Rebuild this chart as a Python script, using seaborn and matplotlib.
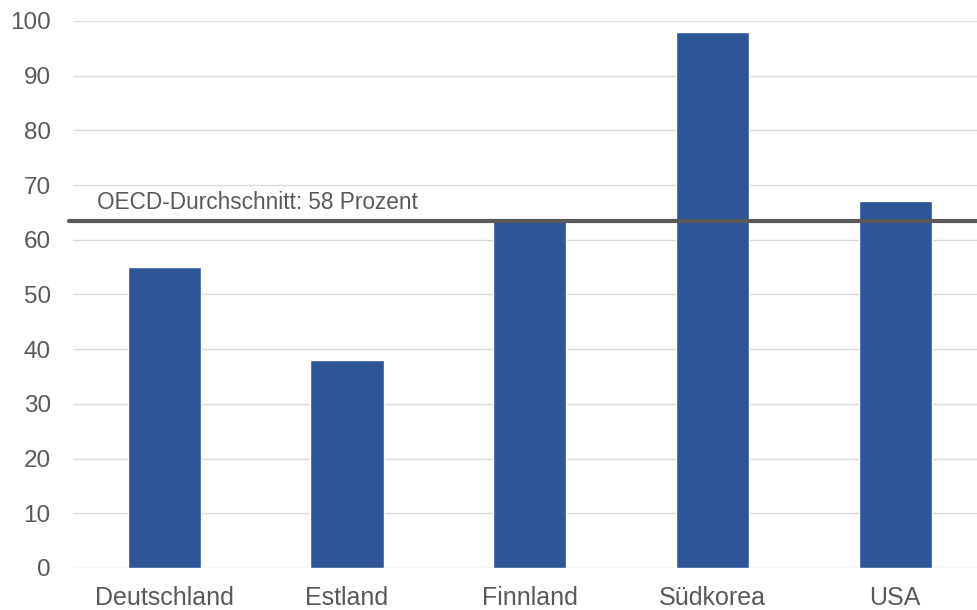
import numpy as np
import pandas as pd
import matplotlib
matplotlib.use('Agg')
import matplotlib.pyplot as plt
import seaborn as sns


COUNTRIES = ['Deutschland', 'Estland', 'Finnland', 'Südkorea', 'USA']
VALUES = [55, 38, 64, 98, 67]
OECD_LEVEL = 63.5
OECD_LABEL = 'OECD-Durchschnitt: 58 Prozent'
Y_TICKS = [0, 10, 20, 30, 40, 50, 60, 70, 80, 90, 100]

BAR_COLOR = '#2E5597'
TEXT_COLOR = '#595959'
GRID_COLOR = '#D9D9D9'

sns.set_theme(style='white')
plt.rcParams['font.family'] = ['Liberation Sans', 'DejaVu Sans']

df = pd.DataFrame({'Land': COUNTRIES, 'Wert': VALUES})

fig = plt.figure(figsize=(9.78, 6.10), dpi=100)
ax = fig.add_axes([0.0746, 0.0689, 1.0086 - 0.0746, 0.9656 - 0.0689])

sns.barplot(data=df, x='Land', y='Wert', color=BAR_COLOR, width=0.4,
            saturation=1, ax=ax, zorder=2)

# grid + axis cosmetics
ax.set_ylim(0, 100)
ax.set_xlim(-0.5, len(COUNTRIES) - 0.5)
ax.set_yticks(Y_TICKS)
ax.yaxis.grid(True, color=GRID_COLOR, linewidth=1)
ax.set_axisbelow(True)
for s in ax.spines.values():
    s.set_visible(False)
ax.set_xlabel('')
ax.set_ylabel('')
ax.tick_params(axis='y', length=0, pad=16, labelsize=17.5, labelcolor=TEXT_COLOR)
ax.tick_params(axis='x', length=0, pad=13, labelsize=18, labelcolor=TEXT_COLOR)

# OECD average line with label
ax.plot([-0.52, len(COUNTRIES) - 0.5], [OECD_LEVEL, OECD_LEVEL],
        color=TEXT_COLOR, linewidth=3, zorder=3, clip_on=False)
ax.text(-0.37, OECD_LEVEL + 1.3, OECD_LABEL, fontsize=16.3,
        color=TEXT_COLOR, ha='left', va='bottom')

plt.savefig('out.png', dpi=100)
plt.close()
